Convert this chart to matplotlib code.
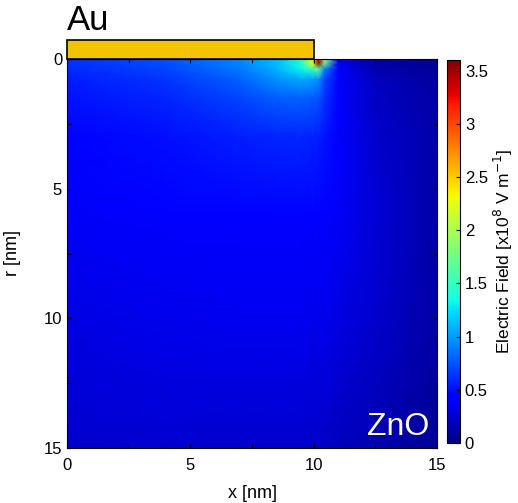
import numpy as np
import matplotlib.pyplot as plt
from matplotlib.patches import Rectangle
from matplotlib.ticker import MultipleLocator

plt.rcParams['font.family'] = ['Liberation Sans', 'DejaVu Sans']

# grid nodes (nm) and field magnitude (x10^8 V/m)
x_nodes = [0, 4, 7, 8.5, 9.5, 9.95, 10.2, 10.45, 11, 12.5, 15]
r_nodes = [0, 0.15, 0.4, 0.8, 1.5, 3, 6, 10, 15]
field = [
    [0.62, 0.72, 0.92, 1.12, 1.40, 2.00, 3.30, 1.60, 0.30, 0.10, 0.05],
    [0.62, 0.72, 0.92, 1.12, 1.40, 2.30, 3.55, 1.80, 0.35, 0.12, 0.06],
    [0.60, 0.70, 0.88, 1.08, 1.32, 1.50, 1.70, 0.90, 0.38, 0.15, 0.08],
    [0.56, 0.64, 0.80, 0.96, 1.05, 1.00, 0.95, 0.70, 0.40, 0.20, 0.10],
    [0.51, 0.58, 0.69, 0.78, 0.80, 0.78, 0.75, 0.62, 0.42, 0.22, 0.12],
    [0.45, 0.50, 0.55, 0.58, 0.58, 0.57, 0.56, 0.52, 0.42, 0.25, 0.13],
    [0.38, 0.42, 0.44, 0.44, 0.44, 0.43, 0.43, 0.42, 0.38, 0.27, 0.13],
    [0.32, 0.35, 0.36, 0.36, 0.36, 0.35, 0.35, 0.35, 0.32, 0.24, 0.12],
    [0.25, 0.26, 0.25, 0.24, 0.24, 0.23, 0.23, 0.23, 0.21, 0.16, 0.08],
]
electrode_width = 10
vmax = 3.6

fig = plt.figure(figsize=(5.18, 5.03), dpi=100)
ax = fig.add_axes([67/518, 1 - 448/503, 370/518, 389/503])
cax = fig.add_axes([447/518, 1 - 443/503, 13/518, 383/503])

mesh = ax.pcolormesh(x_nodes, r_nodes, np.array(field), shading='gouraud',
                     cmap='jet', vmin=0, vmax=vmax, rasterized=True)
ax.set_xlim(0, 15)
ax.set_ylim(15, 0)
ax.xaxis.set_major_locator(MultipleLocator(5))
ax.xaxis.set_minor_locator(MultipleLocator(2.5))
ax.yaxis.set_major_locator(MultipleLocator(5))
ax.yaxis.set_minor_locator(MultipleLocator(2.5))
ax.tick_params(which='both', direction='in', top=True, right=True,
               labelsize=12, length=3, width=0.8)
ax.tick_params(axis='x', pad=7)
ax.set_xlabel('x [nm]', fontsize=13, labelpad=9)
ax.set_ylabel('r [nm]', fontsize=13, labelpad=16)

# gold electrode above the ZnO surface
ax.add_patch(Rectangle((0, -0.73), electrode_width, 0.73, facecolor='#F5C400',
                       edgecolor='black', lw=1.2, clip_on=False, zorder=5))
ax.text(0, -0.85, 'Au', fontsize=25, va='bottom', ha='left', clip_on=False)
ax.text(14.7, 14.75, 'ZnO', fontsize=23, color='white', ha='right', va='bottom')

cb = fig.colorbar(mesh, cax=cax)
cb.set_ticks(np.arange(0, 3.6, 0.5))
cb.set_ticklabels(['0', '0.5', '1', '1.5', '2', '2.5', '3', '3.5'])
cb.ax.tick_params(labelsize=12, length=3, direction='in')
cb.set_label('Electric Field [x10$^{8}$ V m$^{-1}$]', fontsize=12.5, labelpad=3)

plt.savefig('out.png', dpi=100)
